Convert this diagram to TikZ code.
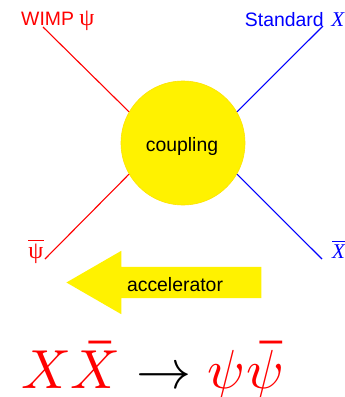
\documentclass[tikz,border=0pt]{standalone}
\usepackage{xcolor}
\usepackage{amsmath}
\usepackage{fontspec}
\setmainfont{Liberation Sans}
\newfontfamily\serifgreek{Liberation Serif}
\DeclareSymbolFont{boldops}{OT1}{cmr}{bx}{n}
\DeclareMathAccent{\heavybar}{\mathord}{boldops}{"16}
\usetikzlibrary{shapes.arrows, positioning}

\begin{document}
\begin{tikzpicture}[x=1pt, y=-1pt, inner sep=0pt, font=\fontsize{19.4}{22}\selectfont,
        wimp/.style={draw=red, line width=1.1pt},
        standard/.style={draw=blue, line width=1.1pt}]
        \useasboundingbox (0,0) rectangle (345,397);

        \node[draw=yellow!85!orange, fill=yellow, circle, line width=0.6pt, minimum size=124pt] (coupling) at (183,143) {};
        \node at (coupling.center) [xshift=-1pt, yshift=-3pt] (couplinglabel) {coupling};

        \node[text=red, anchor=base west] (psilabel) at (21,25) {WIMP {\fontsize{24}{26}\serifgreek ψ}};
        \node[text=blue, anchor=base east] (xlabel) at (344.5,26) {Standard\hspace{7.8pt}{\fontsize{21}{24}\serifgreek\itshape X}};
        \node[text=red, anchor=base] (psibar) at (36,258) {$\overline{\mbox{\fontsize{24}{26}\serifgreek ψ}}$};
        \node[text=blue, anchor=base] (xbar) at (338.5,258) {$\overline{\mbox{\fontsize{21}{24}\serifgreek\itshape X}}$};

        \coordinate (psiend) at (43,27);
        \coordinate (xend) at (323,26);
        \coordinate (psibarend) at (45,259);
        \coordinate (xbarend) at (322,259);

        \draw[wimp] (psiend) -- (coupling.150);
        \draw[standard] (xend) -- (coupling.30);
        \draw[wimp] (psibarend) -- (coupling.210);
        \draw[standard] (xbarend) -- (coupling.330);

        \node[single arrow, fill=yellow, shape border rotate=180, single arrow tip angle=60, single arrow head extend=16pt,
            minimum height=195pt, minimum width=63pt, anchor=tip] (beam) at (66,282.5) {\rule{0pt}{31pt}};
        \node (beamlabel) at (175,285) {accelerator};

        \node[anchor=base west, scale=5.5, font=\normalsize] (reaction) at (20,388) {$\textcolor{red}{X\heavybar{X}}\rightarrow\textcolor{red}{\mkern.3mu\psi\mkern.37mu\heavybar{\psi}}$};
\end{tikzpicture}
\end{document}
